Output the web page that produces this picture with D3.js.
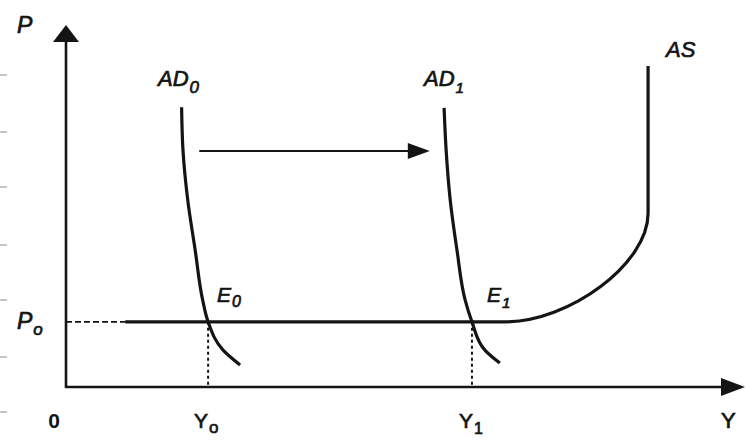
<!DOCTYPE html>
<html><head><meta charset="utf-8">
<script src="https://cdn.jsdelivr.net/npm/d3@7"></script>
<style>html,body{margin:0;padding:0;background:#fff;}svg{display:block;}</style>
</head><body>
<script>
// Data (abstract units: Y output 0-100, P price 0-100)
const ad0 = [[17.0,77.3],[17.2,65.5],[17.9,51.7],[19.0,37.8],[20.1,24.0],[20.9,18.0],[23.1,10.2],[25.6,6.1]];
const ad1 = [[55.6,77.1],[55.9,65.5],[56.5,51.7],[57.5,37.8],[58.7,24.0],[59.7,18.0],[61.6,10.2],[63.8,6.6]];
// AS: flat start, flat end, bend controls, vertical start, top
const asFlat = [[8.7,18],[64.6,18]];
const asBend = [[74,18],[85.6,34],[85.6,48]];
const asTop = [85.6,88.7];
const P0 = 18;
const Y0 = 20.9, Y1 = 59.7;
const shiftArrow = [[19.6,65.2],[53.5,65.2]];
const labels = ["P","AD","AS","E","Y","0"];

const W = 746, H = 440;
const x = d3.scaleLinear().domain([0,100]).range([66,746]);
const y = d3.scaleLinear().domain([0,100]).range([387,25]);

const svg = d3.select("body").append("svg").attr("width",W).attr("height",H);
const ink = "#141414";

// scan artifact marks at left edge
[75,132,187,245,300,357,412].forEach(v=>{
  svg.append("line").attr("x1",0).attr("x2",7).attr("y1",v).attr("y2",v)
    .attr("stroke","#c8c8c0").attr("stroke-width",2);
});

// axes
const yAxisTop = y(100);
svg.append("line").attr("x1",x(0)).attr("x2",x(0)).attr("y1",y(0)+1).attr("y2",yAxisTop+14)
  .attr("stroke",ink).attr("stroke-width",2.6);
svg.append("path").attr("d",`M${x(0)},${yAxisTop} L${x(0)-13},${yAxisTop+17} L${x(0)+13},${yAxisTop+17}Z`).attr("fill",ink);
svg.append("line").attr("x1",x(0)-1).attr("x2",x(100)-20).attr("y1",y(0)).attr("y2",y(0))
  .attr("stroke",ink).attr("stroke-width",2.4);
svg.append("path").attr("d",`M${x(100)-1},${y(0)} L${x(100)-25},${y(0)-9} L${x(100)-25},${y(0)+9}Z`).attr("fill",ink);

// dashed P0 guide
svg.append("line").attr("x1",x(0)).attr("x2",x(asFlat[0][0])).attr("y1",y(P0)).attr("y2",y(P0))
  .attr("stroke",ink).attr("stroke-width",1.8).attr("stroke-dasharray","6,3");
// dotted Y guides
[Y0,Y1].forEach(v=>{
  svg.append("line").attr("x1",x(v)).attr("x2",x(v)).attr("y1",y(P0)).attr("y2",y(0))
    .attr("stroke",ink).attr("stroke-width",2).attr("stroke-dasharray","3,3");
});

const line = d3.line().x(d=>x(d[0])).y(d=>y(d[1])).curve(d3.curveMonotoneY);
svg.append("path").attr("d",line(ad0)).attr("fill","none").attr("stroke",ink).attr("stroke-width",3.2);
svg.append("path").attr("d",line(ad1)).attr("fill","none").attr("stroke",ink).attr("stroke-width",3.2);
const p = d3.path();
p.moveTo(x(asFlat[0][0]),y(asFlat[0][1]));
p.lineTo(x(asFlat[1][0]),y(asFlat[1][1]));
p.bezierCurveTo(x(asBend[0][0]),y(asBend[0][1]),x(asBend[1][0]),y(asBend[1][1]),x(asBend[2][0]),y(asBend[2][1]));
p.lineTo(x(asTop[0]),y(asTop[1]));
svg.append("path").attr("d",p.toString())
  .attr("fill","none").attr("stroke",ink).attr("stroke-width",3.2);

// shift arrow
svg.append("line").attr("x1",x(shiftArrow[0][0])).attr("x2",x(shiftArrow[1][0])-20)
  .attr("y1",y(shiftArrow[0][1])).attr("y2",y(shiftArrow[1][1])).attr("stroke",ink).attr("stroke-width",2);
svg.append("path").attr("d",`M${x(shiftArrow[1][0])},${y(shiftArrow[1][1])} L${x(shiftArrow[1][0])-22},${y(shiftArrow[1][1])-8} L${x(shiftArrow[1][0])-22},${y(shiftArrow[1][1])+8}Z`).attr("fill",ink);

// labels
const F = "'Liberation Sans', Arial, sans-serif";
function lab(tx,ty,main,sub,size,subSize,dy,italic){
  const t = svg.append("text").attr("x",tx).attr("y",ty).attr("font-family",F)
    .attr("font-size",size).attr("font-style",italic?"italic":"normal").attr("fill",ink)
    .attr("stroke",ink).attr("stroke-width",0.7);
  t.append("tspan").text(main);
  if(sub!==null) t.append("tspan").attr("dy",dy).attr("font-size",subSize).attr("dx",1).text(sub);
  return t;
}
lab(17,33,labels[0],null,23,0,0,true);
lab(158,86,labels[1],"0",22,17,7,true);
lab(424,86,labels[1],"1",22,15,7,true);
lab(666,57,labels[2],null,22,0,0,true);
lab(217,302,labels[3],"0",21,16,5,true);
lab(487,302,labels[3],"1",21,15,6,true);
lab(17,329,labels[0],"o",23,17,6,true);
lab(194,428,labels[4],"o",21,17,5,false);
lab(459,428,labels[4],"1",21,16,6,false);
lab(721,428,labels[4],null,22,0,0,false);
svg.append("text").attr("x",54).attr("y",428).attr("text-anchor","middle").attr("font-family",F)
  .attr("font-size",21).attr("font-weight","bold").attr("fill",ink).text(labels[5]);
</script>
</body></html>
